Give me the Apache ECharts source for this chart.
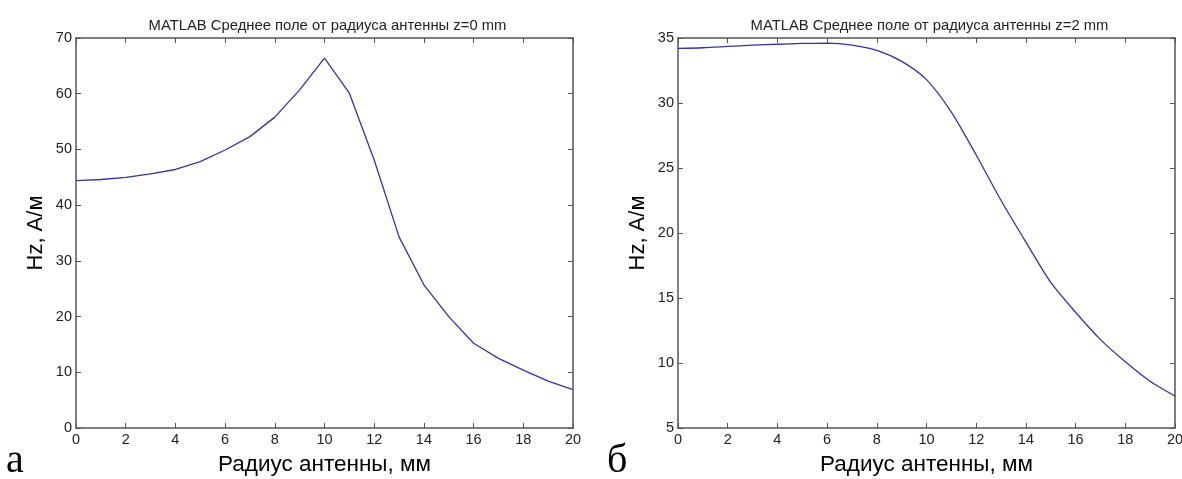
<!DOCTYPE html>
<html>
<head>
<meta charset="utf-8">
<script src="https://cdn.jsdelivr.net/npm/echarts@6/dist/echarts.min.js"></script>
<style>
html,body{margin:0;padding:0;background:#fff;}
#chart{width:1182px;height:479px;}
</style>
</head>
<body>
<div id="chart"></div>
<script>
// ---- data ----
const radiusMm = [0,1,2,3,4,5,6,7,8,9,10,11,12,13,14,15,16,17,18,19,20];
const hzZ0 = [44.4,44.6,45.0,45.6,46.4,47.8,49.9,52.3,55.8,60.7,66.4,60.1,48.1,34.3,25.7,20.0,15.2,12.5,10.4,8.4,6.9];
const hzZ2 = [34.2,34.25,34.35,34.45,34.52,34.58,34.6,34.46,34.05,33.2,31.8,29.3,26.0,22.5,19.3,16.2,13.9,11.8,10.1,8.6,7.46];
const titles = ['MATLAB Среднее поле от радиуса антенны z=0 mm','MATLAB Среднее поле от радиуса антенны z=2 mm'];
const xName = 'Радиус антенны, мм';
const yName = 'Hz, А/м';
const panelLetters = ['а','б'];

const FONT = 'Arial, "Liberation Sans", Helvetica, sans-serif';
const axisColor = '#555';
const lineColor = '#3434a6';

const grids = [
  {left:76, top:38, width:497, height:390, outerBoundsMode:'none', containLabel:false},
  {left:678, top:38, width:497, height:390, outerBoundsMode:'none', containLabel:false}
];
const yRanges = [{min:0,max:70,interval:10},{min:5,max:35,interval:5}];

function xAxes(gi){
  const base = {type:'value', gridIndex:gi, min:0, max:20, interval:2,
    axisLine:{show:true, onZero:false, lineStyle:{color:axisColor, width:1.5}},
    axisTick:{show:true, inside:true, length:5, lineStyle:{color:axisColor, width:1}},
    splitLine:{show:false}};
  return [
    Object.assign({}, base, {position:'bottom',
      axisLabel:{show:true, margin:4, color:'#222', fontSize:14.5, fontFamily:FONT},
      name:xName, nameLocation:'middle', nameGap:25,
      nameTextStyle:{color:'#000', fontSize:22.5, fontFamily:FONT}}),
    Object.assign({}, base, {position:'top', axisLabel:{show:false}})
  ];
}
function yAxes(gi){
  const r = yRanges[gi];
  const base = {type:'value', gridIndex:gi, min:r.min, max:r.max, interval:r.interval,
    axisLine:{show:true, onZero:false, lineStyle:{color:axisColor, width:1.5}},
    axisTick:{show:true, inside:true, length:5, lineStyle:{color:axisColor, width:1}},
    splitLine:{show:false}};
  return [
    Object.assign({}, base, {position:'left',
      axisLabel:{show:true, margin:4, color:'#222', fontSize:14.5, fontFamily:FONT},
      name:yName, nameLocation:'middle', nameGap:29,
      nameTextStyle:{color:'#000', fontSize:22, fontFamily:FONT}}),
    Object.assign({}, base, {position:'right', axisLabel:{show:false}})
  ];
}

const chart = echarts.init(document.getElementById('chart'), null, {renderer:'canvas'});
const option = {
  animation:false,
  backgroundColor:'#fff',
  title: titles.map((t,i)=>({
    text:t, left: grids[i].left + grids[i].width/2 - 2, top:13, textAlign:'center',
    textStyle:{fontSize:14.8, fontWeight:'normal', color:'#222', fontFamily:FONT}
  })),
  grid: grids,
  xAxis: [].concat(xAxes(0), xAxes(1)),
  yAxis: [].concat(yAxes(0), yAxes(1)),
  series: [
    {type:'line', xAxisIndex:0, yAxisIndex:0, data: radiusMm.map((x,i)=>[x,hzZ0[i]]),
     showSymbol:false, lineStyle:{color:lineColor, width:1.3}},
    {type:'line', xAxisIndex:2, yAxisIndex:2, data: radiusMm.map((x,i)=>[x,hzZ2[i]]),
     showSymbol:false, smooth:0.25, lineStyle:{color:lineColor, width:1.3}}
  ],
  graphic: [
    {type:'text', left:6, top:441, style:{text:panelLetters[0], fontSize:40, fontFamily:'"Liberation Serif", "Times New Roman", serif', fill:'#000'}},
    {type:'text', left:607, top:441, style:{text:panelLetters[1], fontSize:40, fontFamily:'"Liberation Serif", "Times New Roman", serif', fill:'#000'}}
  ]
};
chart.setOption(option);
</script>
</body>
</html>
